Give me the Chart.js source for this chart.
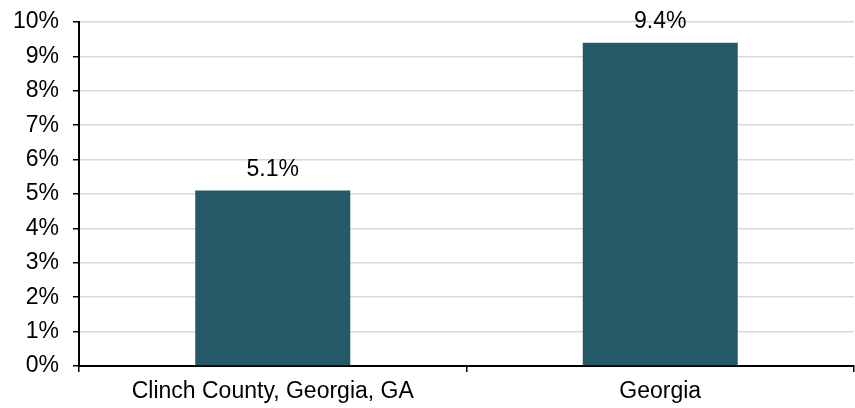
<!DOCTYPE html>
<html>
<head>
<meta charset="utf-8">
<script src="https://cdn.jsdelivr.net/npm/chart.js@4/dist/chart.umd.min.js"></script>
<style>
html,body{margin:0;padding:0;background:#fff;}
#wrap{width:855px;height:408px;position:relative;}
</style>
</head>
<body>
<div id="wrap"><canvas id="c" width="855" height="408"></canvas></div>
<script>
const categories = ["Clinch County, Georgia, GA", "Georgia"];
const values = [5.1, 9.4];
const valueLabels = ["5.1%", "9.4%"];
const yTicks = [0,1,2,3,4,5,6,7,8,9,10];

const FONT = "'Liberation Sans', Arial, sans-serif";

const labelPlugin = {
  id: 'valueLabels',
  afterDatasetsDraw(chart) {
    const ctx = chart.ctx;
    const meta = chart.getDatasetMeta(0);
    ctx.save();
    ctx.font = "23px " + FONT;
    ctx.fillStyle = "#000";
    ctx.textAlign = "center";
    ctx.textBaseline = "alphabetic";
    meta.data.forEach((bar, i) => {
      ctx.fillText(valueLabels[i], bar.x, bar.y - 15);
    });
    ctx.restore();
  }
};

new Chart(document.getElementById('c'), {
  type: 'bar',
  data: {
    labels: categories,
    datasets: [{
      data: values,
      backgroundColor: '#245A68',
      barPercentage: 0.4,
      categoryPercentage: 1.0
    }]
  },
  options: {
    responsive: false,
    animation: false,
    devicePixelRatio: 1,
    layout: { padding: { top: 22, right: 1, left: 0, bottom: 0 } },
    plugins: { legend: { display: false }, tooltip: { enabled: false } },
    scales: {
      x: {
        offset: true,
        grid: { display: true, drawOnChartArea: false, drawTicks: true, tickLength: 6, color: '#000', lineWidth: 1.5, offset: true },
        border: { display: true, color: '#000', width: 2 },
        ticks: { color: '#000', font: { size: 23, family: FONT }, padding: 6, maxRotation: 0 },
        afterFit(scale) { scale.height = 42; scale.paddingLeft = 0; scale.paddingRight = 0; }
      },
      y: {
        min: 0, max: 10,
        afterBuildTicks(scale) { scale.ticks = yTicks.map(v => ({ value: v })); },
        grid: { color: '#d9d9d9', lineWidth: 1.5, tickColor: '#000', tickLength: 6, drawTicks: true },
        border: { display: true, color: '#000', width: 2 },
        ticks: { color: '#000', font: { size: 23, family: FONT }, padding: 14, callback: v => v + '%' },
        afterFit(scale) { scale.width = 79; scale.paddingTop = 0; scale.paddingBottom = 0; }
      }
    }
  },
  plugins: [labelPlugin]
});
</script>
</body>
</html>
